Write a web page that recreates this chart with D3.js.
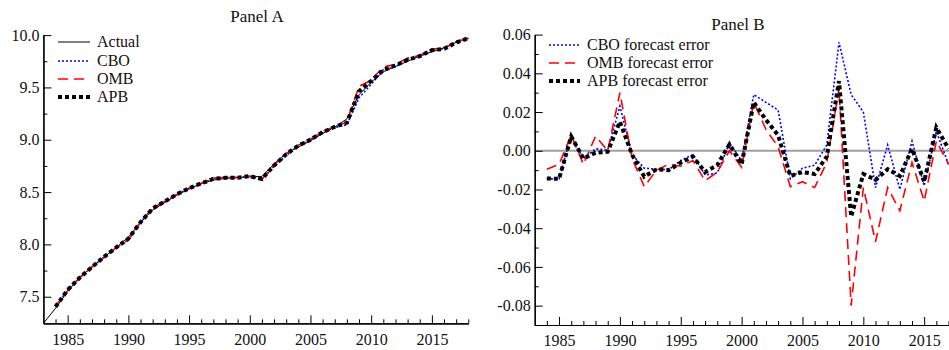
<!DOCTYPE html>
<html>
<head>
<meta charset="utf-8">
<script src="https://cdn.jsdelivr.net/npm/d3@7"></script>
<style>
  body { margin: 0; background: #fff; }
  svg, svg text { font-family: "Liberation Serif", "Times New Roman", Times, "DejaVu Serif", serif !important; }
</style>
</head>
<body>
<svg id="chart" width="949" height="350"></svg>
<script>
// years for panel A (levels) and panel B (forecast errors)
const yearsA = d3.range(1983, 2019);
const yearsF = d3.range(1984, 2019);
const yearsB = d3.range(1984, 2018);

const actual = [7.246, 7.39, 7.55, 7.69, 7.78, 7.88, 7.97, 8.07, 8.21, 8.33, 8.40, 8.47,
  8.53, 8.58, 8.615, 8.63, 8.64, 8.645, 8.65, 8.77, 8.87, 8.93, 8.99, 9.06, 9.12, 9.20,
  9.43, 9.55, 9.65, 9.70, 9.75, 9.80, 9.84, 9.88, 9.93, 9.97];
const cboLevel = [7.405, 7.565, 7.682, 7.784, 7.879, 7.970, 8.047, 8.212, 8.339, 8.410,
  8.480, 8.535, 8.582, 8.628, 8.642, 8.636, 8.650, 8.621, 8.745, 8.849, 8.945, 8.999,
  9.068, 9.117, 9.144, 9.401, 9.530, 9.669, 9.697, 9.770, 9.795, 9.858, 9.870, 9.937, 9.97];
const ombLevel = [7.400, 7.557, 7.682, 7.787, 7.873, 7.970, 8.040, 8.214, 8.349, 8.410,
  8.477, 8.538, 8.585, 8.631, 8.641, 8.640, 8.654, 8.625, 8.759, 8.868, 8.949, 9.006,
  9.079, 9.126, 9.168, 9.510, 9.569, 9.697, 9.719, 9.781, 9.806, 9.866, 9.875, 9.937, 9.97];
const apbLevel = [7.404, 7.565, 7.683, 7.784, 7.881, 7.971, 8.055, 8.212, 8.343, 8.410,
  8.480, 8.536, 8.583, 8.626, 8.637, 8.637, 8.652, 8.625, 8.754, 8.862, 8.943, 9.001,
  9.072, 9.123, 9.164, 9.464, 9.562, 9.665, 9.710, 9.763, 9.799, 9.856, 9.868, 9.929, 9.97];

const cboErr = [-0.0145, -0.0145, 0.008, -0.004, 0.001, 0.0003, 0.023, -0.002, -0.009,
  -0.0095, -0.0098, -0.005, -0.002, -0.0125, -0.0115, 0.004, -0.005, 0.029, 0.025, 0.021,
  -0.0145, -0.009, -0.0075, 0.003, 0.056, 0.029, 0.020, -0.019, 0.003, -0.020, 0.005,
  -0.018, 0.010, -0.007];
const ombErr = [-0.0095, -0.007, 0.008, -0.007, 0.0075, 0.0, 0.030, -0.004, -0.0185,
  -0.010, -0.007, -0.008, -0.005, -0.0155, -0.011, 0.0, -0.0085, 0.025, 0.011, 0.002,
  -0.0185, -0.016, -0.019, -0.006, 0.032, -0.080, -0.019, -0.047, -0.019, -0.031, -0.006,
  -0.026, 0.005, -0.007];
const apbErr = [-0.0143, -0.0145, 0.0074, -0.004, -0.001, -0.0005, 0.015, -0.002, -0.0134,
  -0.0096, -0.010, -0.0062, -0.003, -0.011, -0.0074, 0.0033, -0.007, 0.025, 0.016, 0.008,
  -0.013, -0.011, -0.012, -0.003, 0.036, -0.034, -0.012, -0.015, -0.0095, -0.013, 0.001,
  -0.016, 0.012, 0.001];

const xMajor = [1985, 1990, 1995, 2000, 2005, 2010, 2015];
const yMajorA = [7.5, 8.0, 8.5, 9.0, 9.5, 10.0];
const yMajorB = [-0.08, -0.06, -0.04, -0.02, 0.00, 0.02, 0.04, 0.06];

const serif = '"Liberation Serif", "Times New Roman", Times, serif';
const svg = d3.select('#chart');

const styles = {
  actual: { stroke: '#000', width: 1, dash: null },
  cbo: { stroke: '#0000ff', width: 1.6, dash: '2,2' },
  omb: { stroke: '#ff0000', width: 1.6, dash: '10,6' },
  apb: { stroke: '#000', width: 4, dash: '4,3' }
};

function drawAxes(g, x, y, yMajor, yMinor, fmt, xr, yr) {
  const xMinor = d3.range(1984, 2019).filter(d => d % 5 !== 0);
  g.append('g').attr('transform', `translate(0,${yr[0]})`)
    .call(d3.axisBottom(x).tickValues(xMinor).tickFormat('').tickSize(-4).tickSizeOuter(0));
  g.append('g').attr('transform', `translate(0,${yr[0]})`)
    .call(d3.axisBottom(x).tickValues(xMajor).tickFormat(d3.format('d'))
      .tickSize(-8).tickSizeOuter(0).tickPadding(10));
  g.append('g').attr('transform', `translate(${xr[0]},0)`)
    .call(d3.axisLeft(y).tickValues(yMinor).tickFormat('').tickSize(-4).tickSizeOuter(0));
  g.append('g').attr('transform', `translate(${xr[0]},0)`)
    .call(d3.axisLeft(y).tickValues(yMajor).tickFormat(fmt)
      .tickSize(-8).tickSizeOuter(0).tickPadding(4));
  g.selectAll('g').attr('font-family', serif);
  g.selectAll('.domain').attr('stroke', '#000').attr('stroke-width', 1.2);
  g.selectAll('.tick line').attr('stroke', '#000');
  g.selectAll('.tick text').attr('font-size', 16).attr('fill', '#111')
    .style('font-family', serif);
}

function addLine(g, xs, ys, x, y, st) {
  const line = d3.line().x((d, i) => x(xs[i])).y(d => y(d));
  g.append('path').datum(ys)
    .attr('fill', 'none')
    .attr('stroke', st.stroke)
    .attr('stroke-width', st.width)
    .attr('stroke-dasharray', st.dash)
    .attr('d', line);
}

function legend(g, items, x0, x1, tx, ys) {
  items.forEach((it, i) => {
    g.append('line').attr('x1', x0).attr('x2', x1).attr('y1', ys[i]).attr('y2', ys[i])
      .attr('stroke', it.st.stroke).attr('stroke-width', it.st.width)
      .attr('stroke-dasharray', it.st.dash);
    g.append('text').attr('x', tx).attr('y', ys[i] + 5).attr('font-size', 16)
      .style('font-family', serif).attr('fill', '#111').text(it.label);
  });
}

// Panel A
const xrA = [43.4, 468.3], yrA = [323.3, 35.1];
const xA = d3.scaleLinear().domain([1983, 2018]).range(xrA);
const yA = d3.scaleLinear().domain([7.246, 10.0]).range(yrA);
const gA = svg.append('g');
drawAxes(gA, xA, yA, yMajorA, [7.75, 8.25, 8.75, 9.25, 9.75], d3.format('.1f'), xrA, yrA);
addLine(gA, yearsA, actual, xA, yA, styles.actual);
addLine(gA, yearsF, cboLevel, xA, yA, styles.cbo);
addLine(gA, yearsF, ombLevel, xA, yA, styles.omb);
addLine(gA, yearsF, apbLevel, xA, yA, styles.apb);
gA.append('text').attr('x', 257).attr('y', 22).attr('text-anchor', 'middle')
  .attr('font-size', 17).style('font-family', serif).attr('fill', '#111').text('Panel A');
legend(gA, [
  { label: 'Actual', st: styles.actual },
  { label: 'CBO', st: styles.cbo },
  { label: 'OMB', st: styles.omb },
  { label: 'APB', st: styles.apb }
], 58, 90, 97, [42, 61, 79, 97]);

// Panel B
const xrB = [534.7, 960.7], yrB = [325, 34.6];
const xB = d3.scaleLinear().domain([1983, 2018]).range(xrB);
const yB = d3.scaleLinear().domain([-0.09, 0.06]).range(yrB);
const gB = svg.append('g');
gB.append('line').attr('x1', xrB[0]).attr('x2', xrB[1]).attr('y1', yB(0)).attr('y2', yB(0))
  .attr('stroke', '#a0a0a0').attr('stroke-width', 2);
drawAxes(gB, xB, yB, yMajorB, d3.range(-0.09, 0.06, 0.02).map(d => +d.toFixed(2)),
  d3.format('.2f'), xrB, yrB);
gB.selectAll('.tick text').text(function () { return d3.select(this).text().replace('−', '-'); });
addLine(gB, yearsB, cboErr, xB, yB, styles.cbo);
addLine(gB, yearsB, ombErr, xB, yB, styles.omb);
addLine(gB, yearsB, apbErr, xB, yB, styles.apb);
gB.append('text').attr('x', 738).attr('y', 30).attr('text-anchor', 'middle')
  .attr('font-size', 17).style('font-family', serif).attr('fill', '#111').text('Panel B');
legend(gB, [
  { label: 'CBO forecast error', st: styles.cbo },
  { label: 'OMB forecast error', st: styles.omb },
  { label: 'APB forecast error', st: styles.apb }
], 549, 580, 587, [45, 63, 81]);
</script>
</body>
</html>
